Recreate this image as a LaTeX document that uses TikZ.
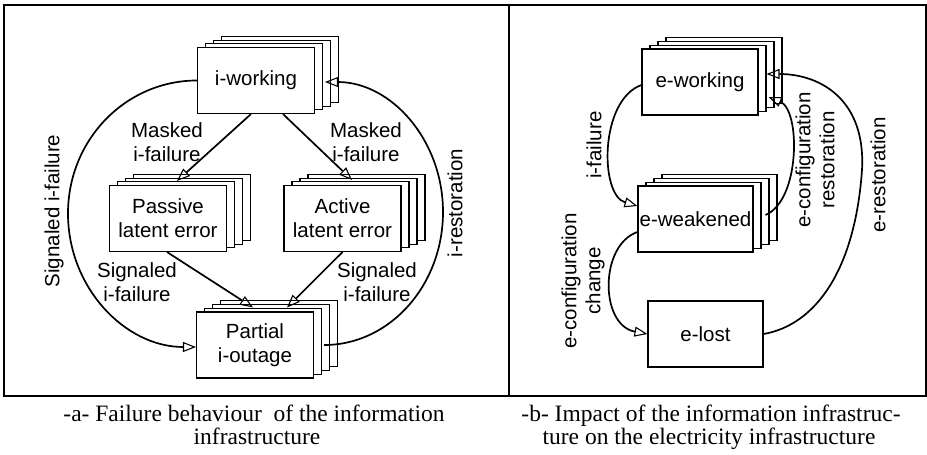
\documentclass[tikz,border=0pt]{standalone}
\usepackage{fontspec}
\setmainfont{Liberation Serif}
\newfontfamily\diagfont{Liberation Sans}
\usetikzlibrary{arrows.meta}

\tikzset{
  state/.style={draw, fill=white, line width=1.1pt, minimum width=117pt,
    minimum height=66pt, inner sep=0pt, align=center,
    font=\diagfont\fontsize{20.5}{24}\selectfont},
  lbl/.style={inner sep=0pt, align=center,
    font=\diagfont\fontsize{20.5}{24}\selectfont},
  vlbl/.style={lbl, rotate=90},
  trans/.style={line width=1.7pt,
    -{Triangle[open, length=13pt, width=10pt, line width=1.1pt]}},
  captext/.style={inner sep=0pt, anchor=base, font=\fontsize{23.5}{28}\selectfont},
  outline/.style={line width=2.4pt},
}

% a state drawn as a stack of four offset copies
\newcommand\stackstate[4][]{%
  \foreach \k in {3,2,1}{%
    \node[state, #1, xshift={\k*8pt}, yshift={\k*3.7pt}] (#2-\k) at #3 {};}
  \node[state, #1] (#2) at #3 {#4};
}

\begin{document}
\begin{tikzpicture}[x=1pt, y=-1pt]
\useasboundingbox (0,0) rectangle (927,455);

% outer frame and divider
\draw[outline] (4,5) rectangle (926,396);
\draw[outline] (509,5) -- (509,396);

% ---- panel a: information infrastructure ----
\stackstate{iw}{(256,80.5)}{i-working}
\stackstate{pl}{(168,218.5)}{Passive\\latent error}
\stackstate{al}{(342.5,218.5)}{Active\\latent error}
\stackstate{po}{(255,345)}{Partial\\i-outage}

\draw[trans] ([xshift=-5pt]iw.south) -- ([xshift=9pt,yshift=4pt]pl.north);
\draw[trans] ([xshift=27pt]iw.south) -- ([xshift=9.5pt,yshift=5pt]al.north);
\draw[trans] ([xshift=-1pt]pl.south) -- ([xshift=-2pt,yshift=4pt]po.north);
\draw[trans] (al.south) -- ([xshift=32pt,yshift=4pt]po.north);

\coordinate (la) at (68,213.5);
\draw[trans] (iw.west) .. controls +(-71,0) and +(0,-74) .. (la)
  .. controls +(0,74) and +(-71,0) .. ([yshift=-2pt]po.west);

\coordinate (ra) at (443,212);
\draw[trans] ([xshift=10pt]po.east) .. controls +(66,0) and +(0,73) .. (ra)
  .. controls +(0,-72) and +(66,0) .. ([xshift=10pt,yshift=-1.5pt]iw.east);

\node[lbl] (m1) at (167,142.5) {Masked\\i-failure};
\node[lbl] (m2) at (366,142.5) {Masked\\i-failure};
\node[lbl] (s1) at (137,282.5) {Signaled\\i-failure};
\node[lbl] (s2) at (377,282.5) {Signaled\\i-failure};
\node[vlbl] (s3) at (54,211) {Signaled i-failure};
\node[vlbl] (r1) at (455,203) {i-restoration};

% ---- panel b: electricity infrastructure ----
\stackstate[minimum width=116pt]{ew}{(700,82)}{e-working}
\stackstate[minimum width=115pt]{ek}{(695.5,219)}{e-weakened}
\node[state, minimum width=115pt] (el) at (705.5,334) {e-lost};

\draw[trans] ([yshift=-3pt]ew.west) .. controls +(-42,15) and +(-38,-11)
  .. ([yshift=13pt]ek.west);
\draw[trans] ([yshift=-13pt]ek.west) .. controls +(-38,13) and +(-48,-9)
  .. (el.west);
\draw[trans] ([xshift=12pt,yshift=4pt]ek.east) .. controls +(35,-15) and +(32,13)
  .. ([xshift=10pt,yshift=-15pt]ew.east);
\coordinate (rb) at (862,170);
\draw[trans] (el.east) .. controls +(52,-9) and +(-7,100) .. (rb)
  .. controls +(4,-70) and +(54,0) .. ([xshift=8pt,yshift=8pt]ew.east);

\node[vlbl] (f1) at (594,145) {i-failure};
\node[vlbl] (c1) at (583,281) {e-configuration\\change};
\node[vlbl] (c2) at (815,160) {e-configuration\\restoration};
\node[vlbl] (r2) at (878,175) {e-restoration};

% ---- captions ----
\node[captext] (ca1) at (254,421) {-a- Failure behaviour\ \ of the information};
\node[captext] (ca2) at (257,444) {infrastructure};
\node[captext] (cb1) at (711,421) {-b- Impact of the information infrastruc-};
\node[captext] (cb2) at (709,444) {ture on the electricity infrastructure};
\end{tikzpicture}
\end{document}
